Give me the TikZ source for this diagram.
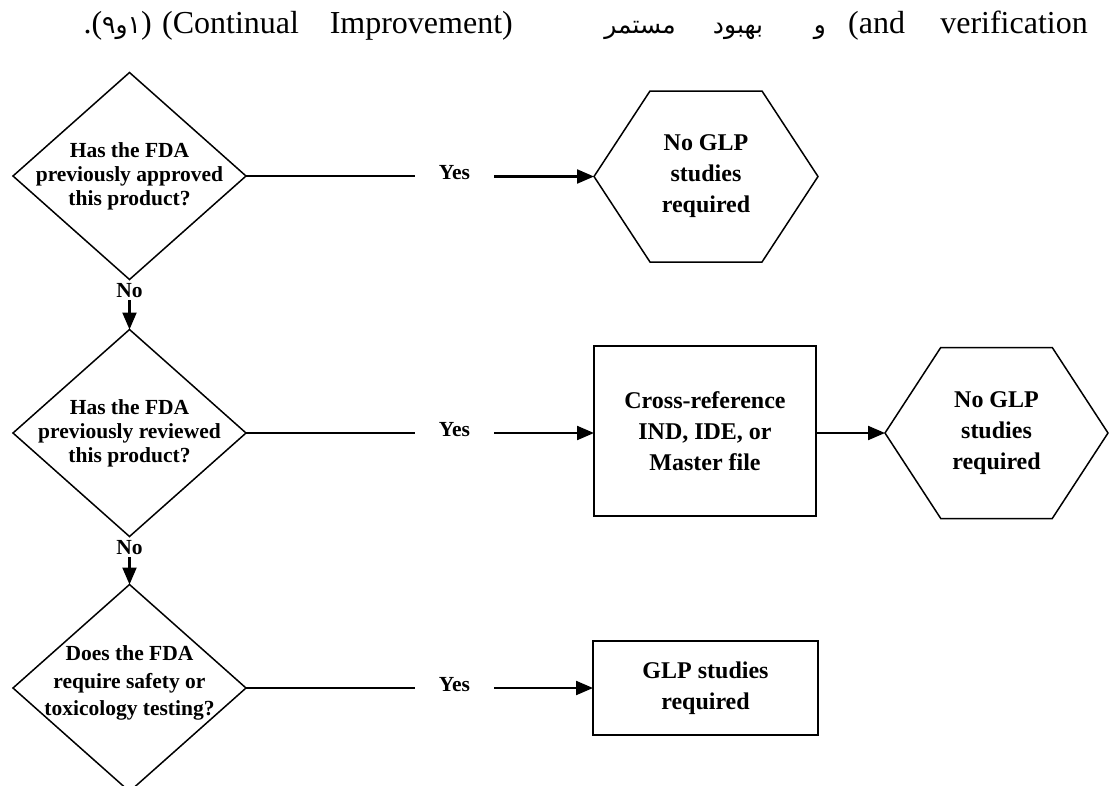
\documentclass[tikz,border=0pt]{standalone}
\usepackage{fontspec}
\setmainfont{Liberation Serif}
\newfontfamily\arabicfont[Script=Arabic]{DejaVu Sans}
\TeXXeTstate=1
\usetikzlibrary{arrows.meta,calc,shapes.geometric}
\begin{document}
\begin{tikzpicture}[x=1pt,y=-1pt,
  qdiamond/.style={diamond,draw=black,line width=1.5pt,inner sep=0pt,outer sep=0pt,
    minimum width=233pt,minimum height=207pt},
  qtext/.style={font=\fontsize{21.5}{24}\selectfont\bfseries,align=center,inner sep=0pt},
  hexbox/.style={rectangle,minimum width=224pt,minimum height=171pt,inner sep=0pt,outer sep=0pt,
    font=\fontsize{24}{31}\selectfont\bfseries,align=center},
  hexline/.style={draw=black,line width=1.5pt,line join=miter},
  rbox/.style={rectangle,draw=black,line width=1.8pt,inner sep=0pt,outer sep=0pt,
    font=\fontsize{24}{31}\selectfont\bfseries,align=center},
  yes/.style={font=\fontsize{21.5}{24}\selectfont\bfseries,inner xsep=24pt,inner ysep=2pt,outer sep=0pt},
  nolab/.style={font=\fontsize{21.5}{24}\selectfont\bfseries,inner sep=2pt,outer sep=0pt},
  plain/.style={draw=black,line width=1.8pt},
  arr/.style={draw=black,line width=2.2pt,-{Triangle[length=17pt,width=14pt]}},
  tline/.style={font=\fontsize{32}{38}\selectfont,inner sep=0pt},
  aword/.style={font=\arabicfont\fontsize{25}{30}\selectfont,inner sep=0pt,anchor=base}
]
\clip (0,0) rectangle (1109,785);
\fill[white] (0,0) rectangle (1109,785);

% top line of text
\node[tline,anchor=base east] (w0) at (152,33) {.({\arabicfont\fontsize{25}{28}\selectfont\beginR ۱و۹\endR})};
\node[tline,anchor=base west] (w1) at (162,33) {(Continual};
\node[tline,anchor=base east] (w2) at (513,33) {Improvement)};
\node[aword] (a1) at (640,33) {\beginR مستمر\endR};
\node[aword] (a2) at (738,33) {\beginR بهبود\endR};
\node[aword] (a3) at (820,33) {\beginR و\endR};
\node[tline,anchor=base west] (w3) at (848,33) {(and};
\node[tline,anchor=base east] (w4) at (1088,33) {verification};

% decisions
\node[qdiamond] (d1) at (129.5,176) {};
\node[qtext] (d1t) at (129.5,176) {Has the FDA\\previously approved\\this product?};
\node[qdiamond] (d2) at (129.5,433) {};
\node[qtext] (d2t) at (129.5,433) {Has the FDA\\previously reviewed\\this product?};
\node[qdiamond] (d3) at (129.5,688) {};
\node[qtext,font=\fontsize{21.5}{27.5}\selectfont\bfseries] (d3t) at (129.5,683) {Does the FDA\\require safety or\\toxicology testing?};

% No labels
\node[nolab] (n1) at (129.5,291) {No};
\node[nolab] (n2) at (129.5,548) {No};
\draw[arr] (n1.south) -- (d2.north);
\draw[arr] (n2.south) -- (d3.north);

% outcomes
\node[hexbox] (h1) at (706,176.5) {No GLP\\studies\\required};
\draw[hexline] (h1.west) -- ($(h1.north west)!0.25!(h1.north east)$) -- ($(h1.north west)!0.75!(h1.north east)$)
  -- (h1.east) -- ($(h1.south west)!0.75!(h1.south east)$) -- ($(h1.south west)!0.25!(h1.south east)$) -- cycle;
\node[rbox,minimum width=222pt,minimum height=170pt] (b2) at (705,431) {Cross-reference\\IND, IDE, or\\Master file};
\node[hexbox,minimum width=223pt] (h2) at (996.5,433) {No GLP\\studies\\required};
\draw[hexline] (h2.west) -- ($(h2.north west)!0.25!(h2.north east)$) -- ($(h2.north west)!0.75!(h2.north east)$)
  -- (h2.east) -- ($(h2.south west)!0.75!(h2.south east)$) -- ($(h2.south west)!0.25!(h2.south east)$) -- cycle;
\node[rbox,minimum width=225pt,minimum height=94pt] (b3) at (705.5,688) {GLP studies\\required};

% Yes connectors
\node[yes] (y1) at (454.5,173) {Yes};
\node[yes] (y2) at (454.5,430) {Yes};
\node[yes] (y3) at (454.5,685) {Yes};
\draw[plain] (d1.east) -- (d1.east -| y1.west);
\draw[arr] (y1.east |- h1.west) -- (h1.west);
\draw[plain] (d2.east) -- (d2.east -| y2.west);
\draw[arr] (y2.east |- d2.east) -- (d2.east -| b2.west);
\draw[arr] (b2.east |- h2.west) -- (h2.west);
\draw[plain] (d3.east) -- (d3.east -| y3.west);
\draw[arr] (y3.east |- d3.east) -- (d3.east -| b3.west);
\end{tikzpicture}
\end{document}
